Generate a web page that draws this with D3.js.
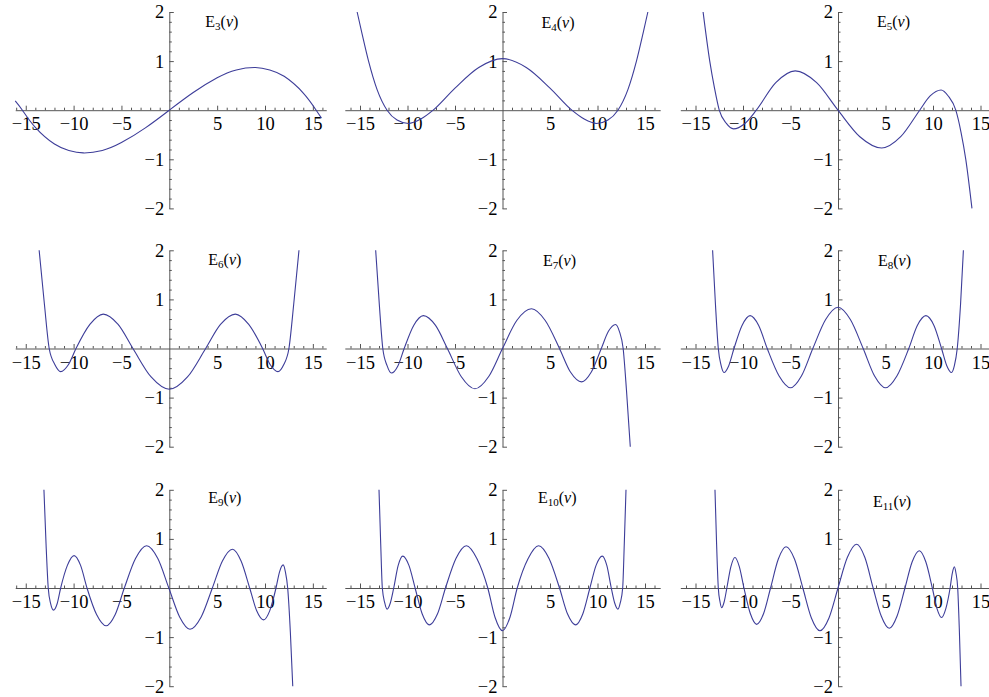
<!doctype html>
<html>

<head>
    <meta charset="utf-8">
    <title>E_n(nu)</title>
    <style>
        body { margin: 0; background: #fff; }
        svg { display: block; }
    </style>
</head>

<body>
    <script src="https://d3js.org/d3.v7.min.js"></script>
    <script>
        // order of each panel (subscript of E)
        var orders = [3, 4, 5, 6, 7, 8, 9, 10, 11];

        // labelled ticks
        var xTicks = [-15, -10, -5, 5, 10, 15];
        var yTicks = [-2, -1, 1, 2];

        // curves, [nu, E]
        var E3 = [[-16.1, 0.19], [-15.35, 0], [-14, -0.35], [-12, -0.69], [-10.5, -0.82], [-9, -0.87], [-7, -0.82], [-5, -0.66], [-2.5, -0.36], [0, 0],
            [2.5, 0.36], [5, 0.66], [7, 0.82], [9, 0.87], [10.5, 0.82], [12, 0.69], [14, 0.35], [15.35, 0], [15.9, -0.16]];
        var E4 = [[-15.3, 2], [-14.8, 1.57], [-14.1, 1.0], [-13.2, 0.42], [-12.15, 0], [-11.1, -0.2], [-9.9, -0.27], [-8.6, -0.18], [-7.3, 0], [-5, 0.45], [-2.5, 0.87], [0, 1.05],
            [2.5, 0.87], [5, 0.45], [7.3, 0], [8.6, -0.18], [9.9, -0.27], [11.1, -0.2], [12.15, 0], [13.2, 0.42], [14.1, 1.0], [14.8, 1.57], [15.3, 2]];
        var E5 = [[-14.2, 2], [-13.5, 1.0], [-13.0, 0.45], [-12.5, 0], [-11.75, -0.27], [-11.0, -0.38], [-9.8, -0.27], [-8.6, 0], [-6.55, 0.56], [-4.5, 0.8], [-2.25, 0.56], [0, 0],
            [2.3, -0.54], [4.6, -0.77], [6.6, -0.54], [8.6, 0], [9.7, 0.29], [10.85, 0.41], [11.6, 0.29], [12.4, 0], [12.95, -0.45], [13.45, -1.0], [14.1, -2]];
        var E6 = [[-13.6, 2], [-13.05, 0.9], [-12.55, 0], [-11.95, -0.33], [-11.35, -0.47], [-10.55, -0.33], [-9.75, 0], [-8.3, 0.49], [-6.9, 0.7], [-5.35, 0.49], [-3.8, 0], [-1.9, -0.58], [0, -0.83],
            [1.9, -0.58], [3.8, 0], [5.35, 0.49], [6.9, 0.7], [8.3, 0.49], [9.75, 0], [10.55, -0.33], [11.35, -0.47], [11.95, -0.33], [12.5, 0], [13.0, 0.9], [13.55, 2]];
        var E7 = [[-13.35, 2], [-12.95, 0.85], [-12.6, 0], [-12.15, -0.35], [-11.7, -0.5], [-11.0, -0.35], [-10.35, 0], [-9.35, 0.47], [-8.33, 0.67], [-7.05, 0.47], [-5.8, 0], [-4.35, -0.57], [-2.9, -0.82], [-1.45, -0.57], [0, 0],
            [1.5, 0.57], [3.05, 0.81], [4.5, 0.57], [6.0, 0], [7.15, -0.48], [8.33, -0.68], [9.35, -0.48], [10.4, 0], [11.15, 0.35], [11.9, 0.49], [12.3, 0.35], [12.7, 0], [13.05, -0.85], [13.45, -2]];
        var E8 = [[-13.2, 2], [-12.9, 0.9], [-12.6, 0], [-12.3, -0.35], [-12.0, -0.49], [-11.5, -0.35], [-10.95, 0], [-10.1, 0.47], [-9.25, 0.67], [-8.35, 0.47], [-7.45, 0], [-6.2, -0.56], [-5.0, -0.8], [-3.85, -0.56], [-2.65, 0], [-1.3, 0.59], [0, 0.84],
            [1.3, 0.59], [2.65, 0], [3.85, -0.56], [5.0, -0.8], [6.2, -0.56], [7.45, 0], [8.35, 0.47], [9.25, 0.67], [10.1, 0.47], [10.9, 0], [11.45, -0.35], [11.95, -0.49], [12.25, -0.35], [12.55, 0], [12.9, 0.9], [13.2, 2]];
        var E9 = [[-13.1, 2], [-12.88, 0.9], [-12.65, 0], [-12.4, -0.32], [-12.1, -0.45], [-11.72, -0.32], [-11.35, 0], [-10.65, 0.46], [-9.95, 0.66], [-9.27, 0.46], [-8.6, 0], [-7.6, -0.54], [-6.6, -0.77], [-5.65, -0.54], [-4.7, 0], [-3.53, 0.6], [-2.37, 0.86], [-1.2, 0.6], [-0.05, 0],
            [1.08, -0.59], [2.16, -0.84], [3.33, -0.59], [4.5, 0], [5.55, 0.55], [6.6, 0.79], [7.5, 0.55], [8.4, 0], [9.12, -0.46], [9.85, -0.65], [10.5, -0.46], [11.15, 0], [11.52, 0.33], [11.9, 0.47], [12.13, 0.33], [12.37, 0], [12.65, -0.9], [12.9, -2]];
        var E10 = [[-13.0, 2], [-12.82, 0.9], [-12.65, 0], [-12.4, -0.3], [-12.15, -0.43], [-11.8, -0.3], [-11.45, 0], [-10.98, 0.46], [-10.5, 0.65], [-9.85, 0.46], [-9.2, 0], [-8.45, -0.53], [-7.7, -0.75], [-6.85, -0.53], [-6.0, 0], [-4.9, 0.6], [-3.8, 0.86], [-2.7, 0.6], [-1.55, 0], [-0.78, -0.6], [0, -0.87],
            [0.78, -0.6], [1.55, 0], [2.7, 0.6], [3.8, 0.86], [4.9, 0.6], [6.0, 0], [6.85, -0.53], [7.7, -0.75], [8.45, -0.53], [9.2, 0], [9.85, 0.46], [10.5, 0.65], [10.98, 0.46], [11.45, 0], [11.8, -0.3], [12.15, -0.43], [12.4, -0.3], [12.65, 0], [12.82, 0.9], [13.0, 2]];
        var E11 = [[-12.95, 2], [-12.78, 0.9], [-12.6, 0], [-12.42, -0.28], [-12.25, -0.4], [-11.98, -0.28], [-11.7, 0], [-11.28, 0.43], [-10.85, 0.62], [-10.38, 0.43], [-9.9, 0], [-9.23, -0.52], [-8.56, -0.74], [-7.83, -0.52], [-7.1, 0], [-6.28, 0.59], [-5.47, 0.84], [-4.58, 0.59], [-3.7, 0], [-2.8, -0.61], [-1.9, -0.87], [-0.95, -0.61], [0, 0],
            [0.98, 0.62], [1.96, 0.89], [2.83, 0.62], [3.7, 0], [4.55, -0.57], [5.4, -0.82], [6.22, -0.57], [7.05, 0], [7.8, 0.53], [8.56, 0.76], [9.25, 0.53], [9.93, 0], [10.42, -0.42], [10.9, -0.6], [11.35, -0.42], [11.8, 0], [12.03, 0.3], [12.25, 0.43], [12.42, 0.3], [12.6, 0], [12.78, -0.9], [12.95, -2]];

        var curves = [E3, E4, E5, E6, E7, E8, E9, E10, E11];

        // layout of the 3x3 grid
        var w = 989;
        var h = 697;
        var colX0 = [169.3, 502.5, 838];      // pixel of nu = 0
        var colK = [9.57, 9.5, 9.5];          // pixels per unit of nu
        var colAxis = [[-16.1, 16.4], [-16.6, 16.6], [-16.6, 16.6]];
        var rowY0 = [110.2, 348.5, 588];      // pixel of E = 0
        var ky = 49.1;                        // pixels per unit of E
        var titleDx = [36, 39, 39, 39, 40.5, 40, 39, 35.5, 35];
        var titleDy = [14.7, 16, 15.3, 14.3, 16, 15.3, 13.3, 13.3, 16.7];

        var axisColor = "#555";
        var lineColor = "#3d3d99";
        var serif = "'Liberation Serif', 'Times New Roman', serif";

        var svg = d3.select("body")
            .append("svg")
            .attr("width", w)
            .attr("height", h);

        curves.forEach(function (data, i) {
            var col = i % 3;
            var row = Math.floor(i / 3);
            var ext = colAxis[col];

            var x = d3.scaleLinear()
                .domain(ext)
                .range([colX0[col] + ext[0] * colK[col], colX0[col] + ext[1] * colK[col]]);
            var y = d3.scaleLinear()
                .domain([-2, 2])
                .range([rowY0[row] + 2 * ky, rowY0[row] - 2 * ky]);

            var g = svg.append("g");

            // minor ticks on nu axis
            g.append("g")
                .attr("transform", "translate(0," + y(0) + ")")
                .call(d3.axisBottom(x)
                    .tickValues(d3.range(Math.ceil(ext[0]), Math.floor(ext[1]) + 1).filter(function (d) { return d % 5 !== 0; }))
                    .tickSize(-2.5).tickSizeOuter(0).tickFormat(""))
                .call(function (a) { a.select(".domain").remove(); });

            // main nu axis
            g.append("g")
                .attr("transform", "translate(0," + y(0) + ")")
                .call(d3.axisBottom(x)
                    .tickValues(xTicks)
                    .tickSize(-4.5).tickSizeOuter(0).tickPadding(7)
                    .tickFormat(d3.format("d")));

            // minor ticks on E axis
            g.append("g")
                .attr("transform", "translate(" + x(0) + ",0)")
                .call(d3.axisLeft(y)
                    .tickValues(d3.range(-2, 2.001, 0.2).filter(function (d) { return Math.abs(d - Math.round(d)) > 0.01; }))
                    .tickSize(-2.5).tickSizeOuter(0).tickFormat(""))
                .call(function (a) { a.select(".domain").remove(); });

            g.append("g")
                .attr("transform", "translate(" + x(0) + ",0)")
                .call(d3.axisLeft(y)
                    .tickValues(yTicks)
                    .tickSize(-4.5).tickSizeOuter(0).tickPadding(5)
                    .tickFormat(d3.format("d")));

            g.selectAll("path.domain, line")
                .attr("stroke", axisColor)
                .attr("stroke-width", 1);
            g.selectAll("text")
                .attr("fill", "#000")
                .attr("font-family", null)
                .style("font-family", serif)
                .style("font-size", "18.5px");

            // the curve
            var line = d3.line()
                .x(function (d) { return x(d[0]); })
                .y(function (d) { return y(d[1]); })
                .curve(i === 0 ? d3.curveNatural : d3.curveMonotoneX);

            g.append("path")
                .datum(data)
                .attr("d", line)
                .attr("fill", "none")
                .attr("stroke", lineColor)
                .attr("stroke-width", 1.1);

            // title E_n(nu)
            var t = g.append("text")
                .attr("x", x(0) + titleDx[i])
                .attr("y", y(2) + titleDy[i])
                .style("font-family", serif)
                .style("font-size", "16px")
                .attr("fill", "#000");
            t.append("tspan").text("E");
            t.append("tspan").attr("dy", 3).style("font-size", "11px").text(orders[i]);
            t.append("tspan").attr("dy", -3).text("(");
            t.append("tspan").style("font-style", "italic").text("\u03bd");
            t.append("tspan").text(")");
        });
    </script>
</body>

</html>
